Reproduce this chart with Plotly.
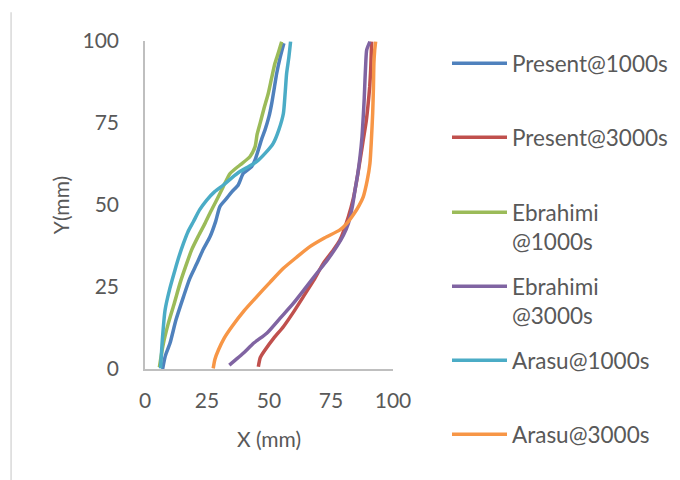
import plotly.graph_objects as go

# Data (X in mm, Y in mm)
present_1000_x = [7.1, 8.2, 10.1, 12.5, 15.5, 18.0, 20.8, 23.5, 26.2, 28.5, 30.2, 32.9, 35.0, 37.6, 39.6, 43.0, 44.5, 45.7, 47.0, 48.4, 50.0, 51.1, 52.2, 53.1, 54.5, 56.0]
present_1000_y = [0.0, 4.0, 7.9, 15.0, 22.0, 27.5, 32.0, 36.5, 40.3, 45.0, 49.5, 52.0, 54.0, 56.1, 59.6, 61.7, 64.0, 66.8, 70.0, 72.9, 77.0, 81.0, 86.0, 90.1, 95.0, 99.3]

present_3000_x = [45.7, 46.5, 48.4, 52.0, 55.8, 60.0, 63.8, 68.0, 71.9, 75.5, 78.6, 82.0, 84.0, 85.4, 86.8, 88.0, 89.2, 90.0, 90.6, 91.0, 91.2, 91.4]
present_3000_y = [0.7, 3.5, 5.8, 9.5, 12.9, 17.5, 22.0, 27.0, 32.2, 35.8, 39.3, 46.4, 52.0, 57.6, 64.0, 69.8, 75.5, 81.0, 86.0, 91.2, 95.5, 99.8]

ebrahimi_1000_x = [5.8, 7.2, 9.4, 11.8, 14.1, 16.5, 18.8, 21.5, 24.2, 26.5, 28.9, 31.5, 34.3, 38.3, 42.3, 44.4, 45.2, 46.4, 48.0, 49.7, 51.0, 52.4, 53.8, 55.1]
ebrahimi_1000_y = [0.5, 7.0, 13.9, 20.0, 26.1, 31.5, 36.3, 40.5, 44.4, 48.0, 51.5, 55.5, 59.6, 62.2, 64.7, 67.8, 71.5, 74.9, 79.5, 84.0, 88.5, 93.2, 96.5, 99.8]

ebrahimi_3000_x = [34.0, 36.5, 39.6, 44.0, 49.1, 54.5, 59.8, 64.5, 69.2, 73.5, 77.3, 80.0, 82.0, 83.6, 84.7, 85.8, 86.7, 87.5, 88.0, 88.4, 88.7, 89.0, 89.4, 90.7]
ebrahimi_3000_y = [1.2, 2.8, 4.8, 8.0, 10.9, 15.5, 20.0, 24.5, 29.1, 33.2, 37.3, 40.8, 44.4, 49.5, 54.6, 59.5, 64.7, 70.8, 76.9, 82.5, 88.1, 93.0, 97.3, 99.8]

arasu_1000_x = [6.3, 7.0, 8.1, 10.0, 12.1, 13.8, 15.5, 17.3, 19.5, 22.0, 24.9, 28.0, 31.6, 35.0, 38.3, 42.0, 45.0, 48.5, 51.7, 54.0, 55.8, 56.5, 57.1, 58.0, 58.7]
arasu_1000_y = [0.2, 9.0, 18.0, 24.5, 30.2, 34.5, 38.3, 41.8, 44.9, 48.5, 51.5, 54.0, 56.1, 58.3, 60.2, 61.8, 63.2, 65.8, 68.8, 73.0, 77.9, 84.0, 90.1, 95.0, 99.8]

arasu_3000_x = [27.5, 28.2, 29.6, 32.0, 35.0, 40.0, 45.0, 50.5, 55.8, 61.0, 66.5, 72.5, 78.6, 81.5, 84.0, 86.3, 88.0, 89.6, 90.7, 91.3, 91.8, 92.1, 92.3, 92.6, 93.0]
arasu_3000_y = [0.2, 3.0, 5.8, 9.5, 12.9, 17.8, 22.0, 26.5, 30.7, 34.0, 37.3, 40.0, 42.4, 44.5, 47.0, 49.8, 52.5, 57.5, 62.7, 70.0, 77.9, 85.5, 93.2, 97.0, 99.8]

series_names = ["Present@1000s", "Present@3000s", "Ebrahimi<br>@1000s",
                "Ebrahimi<br>@3000s", "Arasu@1000s", "Arasu@3000s"]
series_x = [present_1000_x, present_3000_x, ebrahimi_1000_x,
            ebrahimi_3000_x, arasu_1000_x, arasu_3000_x]
series_y = [present_1000_y, present_3000_y, ebrahimi_1000_y,
            ebrahimi_3000_y, arasu_1000_y, arasu_3000_y]
colors = ["#4F81BD", "#C0504D", "#9BBB59", "#8064A2", "#4BACC6", "#F79646"]

x_ticks = [0, 25, 50, 75, 100]
y_ticks = [0, 25, 50, 75, 100]

FONT = "Lato"
TXT = "#595959"
AXIS = "#BFBFBF"

# figure is placed by the page with an 8px body margin
W, H = 672, 472
OFF = 8

# legend slots: page pixel row of each legend entry's first text line
legend_rows = [63, 137, 212, 286, 360, 434]

fig = go.Figure()
legends = {}
for i, (name, xs, ys, c) in enumerate(zip(series_names, series_x, series_y, colors)):
    lg = "legend" if i == 0 else "legend%d" % (i + 1)
    fig.add_trace(go.Scatter(
        x=xs, y=ys, mode="lines", name=name, legend=lg,
        line=dict(color=c, width=3.5, shape="spline", smoothing=0.6),
    ))
    legends[lg] = dict(
        xref="container", yref="container",
        x=(447 - OFF) / W, xanchor="left",
        y=1 - (legend_rows[i] - OFF - 21) / H, yanchor="top",
        valign="top", itemwidth=55,
        font=dict(family=FONT, size=22.5, color=TXT),
        bgcolor="rgba(0,0,0,0)",
    )

fig.update_layout(
    width=W, height=H,
    margin=dict(l=137, r=287, t=33, b=111),
    paper_bgcolor="white", plot_bgcolor="white",
    font=dict(family=FONT, size=21, color=TXT),
    showlegend=True,
    xaxis=dict(
        range=[0, 100], tickvals=x_ticks, ticktext=[str(v) for v in x_ticks],
        showgrid=False, zeroline=False, showline=True, linecolor=AXIS, linewidth=1.5,
        ticks="", ticklabelstandoff=12, automargin=False,
        title=dict(text="X (mm)", standoff=21, font=dict(family=FONT, size=21, color=TXT)),
    ),
    yaxis=dict(
        range=[0, 100], tickvals=y_ticks, ticktext=[str(v) for v in y_ticks],
        showgrid=False, zeroline=False, showline=True, linecolor=AXIS, linewidth=1.5,
        ticks="", ticklabelstandoff=20, automargin=False,
        title=dict(text="Y(mm)", standoff=7, font=dict(family=FONT, size=21, color=TXT)),
    ),
    shapes=[dict(type="line", xref="paper", yref="paper",
                 x0=-0.540, x1=-0.540, y0=1.088, y1=-0.345,
                 line=dict(color="#D9D9D9", width=1.5))],
    **legends,
)

fig.write_html("out.html")
